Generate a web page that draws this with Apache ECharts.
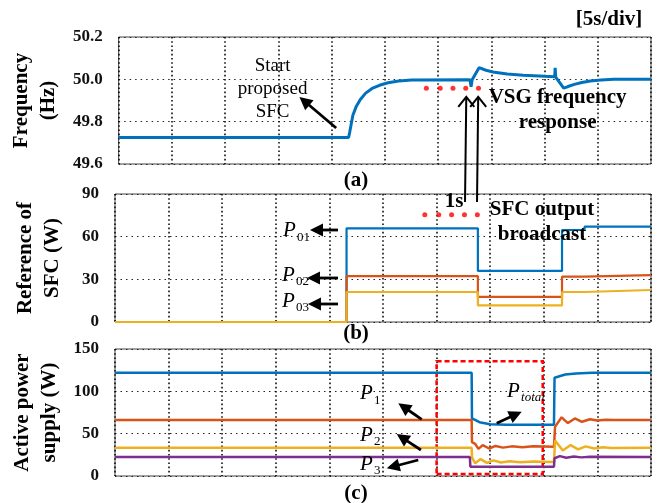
<!DOCTYPE html>
<html>
<head>
<meta charset="utf-8">
<title>SFC experiment</title>
<script src="https://cdn.jsdelivr.net/npm/echarts@6.0.0/dist/echarts.min.js"></script>
<style>
  html, body { margin: 0; padding: 0; background: #fff; }
  #main { width: 664px; height: 503px; }
</style>
</head>
<body>
<div id="main"></div>
<script type="text/javascript">
// time axis: 10 div x 5 s
var timeMin = 0, timeMax = 50, timeStep = 5;

// (a) frequency [t (s), f (Hz)]
var freq = [
  [0, 49.725], [21.6, 49.725], [21.7, 49.75], [21.85, 49.79], [22.0, 49.83], [22.3, 49.87], [22.7, 49.905],
  [23.2, 49.935], [23.8, 49.957], [24.5, 49.972], [25.3, 49.984], [26.3, 49.992], [27.5, 49.997],
  [33.0, 49.998], [33.1, 49.965], [33.2, 49.998], [33.85, 50.055], [34.5, 50.043], [35.3, 50.033],
  [36.5, 50.025], [38.0, 50.019], [40.0, 50.014], [40.95, 50.012], [41.0, 50.054], [41.05, 50.01],
  [41.8, 49.958], [42.2, 49.966], [42.8, 49.976], [43.5, 49.985], [44.3, 49.992], [45.3, 49.997], [46.5, 50.0], [50, 50.0]
];

// (b) SFC references [t, W]
var refP01 = [[0, 0], [21.6, 0], [21.6, 65.9], [33.85, 65.9], [33.85, 35.9], [41.7, 35.9], [41.7, 64.7], [43.8, 64.7], [43.8, 67.0], [50, 67.0]];
var refP02 = [[0, 0], [21.6, 0], [21.6, 32.3], [33.85, 32.3], [33.85, 17.6], [41.7, 17.6], [41.7, 31.9], [43.8, 31.9], [43.8, 33.0], [50, 33.0]];
var refP03 = [[0, 0], [21.6, 0], [21.6, 21.1], [33.85, 21.1], [33.85, 11.7], [41.7, 11.7], [41.7, 21.1], [43.8, 21.1], [43.8, 22.5], [50, 22.5]];

// (c) active power supply [t, W]
var pTotal = [[0, 122], [33.27, 122], [33.3, 68], [34.0, 63.5], [35.0, 61.2], [36.5, 60.5], [40.95, 60.5], [41.0, 116], [42.0, 119.8], [43.0, 121.2], [44.5, 122], [50, 122]];
var p1 = [[0, 66], [33.27, 66], [33.3, 40], [33.6, 38], [33.9, 32], [34.3, 36.5], [34.9, 32.5], [35.5, 35.5], [36.2, 33.5], [37, 35], [38, 34], [39, 35], [40.95, 34.5],
          [41.05, 58], [41.66, 69.3], [42.25, 62.5], [42.9, 68], [43.56, 64], [44.3, 67], [45, 65.5], [45.8, 66.5], [46.5, 66], [50, 66]];
var p2 = [[0, 33.4], [33.27, 33.4], [33.3, 22], [33.6, 15], [34.1, 20], [34.7, 15.5], [35.3, 18.5], [36, 16], [36.8, 17.5], [37.8, 16.3], [39, 17], [40.95, 16.5],
          [41.05, 42], [41.77, 30], [42.5, 36.5], [43.2, 31.5], [43.9, 35], [44.7, 32.5], [45.5, 34], [46.3, 33.2], [50, 33.4]];
var p3 = [[0, 22.4], [33.1, 22.4], [33.15, 11], [40.95, 11], [41.0, 21], [41.5, 23.5], [42.1, 21.5], [42.8, 23], [43.5, 22], [44.3, 22.8], [50, 22.4]];

// broadcast instants (red dots)
var dotTimes = [28.9, 30.2, 31.4, 32.6, 33.8];
var dotFreq = 49.958, dotRef = 75.4;

// dashed box in (c): [t0, W0, t1, W1]
var boxArea = [30.0, 2.4, 39.9, 135.5];

var cBlue = '#0072BD', cOrange = '#D95319', cYellow = '#EDB120', cPurple = '#7E2F8E';
var serif = '"Liberation Serif", "Times New Roman", serif';

function xAx(i) {
  return {
    type: 'value', gridIndex: i, min: timeMin, max: timeMax, interval: timeStep,
    axisLine: { show: false }, axisTick: { show: false }, axisLabel: { show: false },
    splitLine: { show: true, lineStyle: { color: '#000', width: 1.5, type: [1.6, 2.6] } }
  };
}
function yAx(i, min, max, step, name, dec) {
  return {
    type: 'value', gridIndex: i, min: min, max: max, interval: step,
    name: name, nameLocation: 'middle', nameGap: 49, nameRotate: 90,
    nameTextStyle: { fontFamily: serif, fontWeight: 'bold', fontSize: 21, color: '#000', lineHeight: 27 },
    axisLine: { show: false }, axisTick: { show: false },
    axisLabel: {
      margin: 16, fontFamily: serif, fontWeight: 'bold', fontSize: 17, color: '#111',
      formatter: function (v) { return v.toFixed(dec); }
    },
    splitLine: { show: true, lineStyle: { color: '#222', width: 1, type: [1.5, 4] } }
  };
}
function lineS(name, data, color, x, y, w) {
  return { name: name, type: 'line', xAxisIndex: x, yAxisIndex: y, data: data, showSymbol: false,
           lineStyle: { color: color, width: w }, itemStyle: { color: color }, animation: false, silent: true };
}
function dots(vals, x, y) {
  return { type: 'scatter', xAxisIndex: x, yAxisIndex: y, symbolSize: 5, itemStyle: { color: '#ff0000' },
           data: vals.map(function (t) { return [t, y === 0 ? dotFreq : dotRef]; }), animation: false, silent: true };
}

var gridBox = { show: true, left: 115, right: 13, borderColor: '#444', borderWidth: 1 };

var option = {
  backgroundColor: '#fff',
  animation: false,
  grid: [
    Object.assign({ top: 37, height: 127 }, gridBox),
    Object.assign({ top: 194, height: 128 }, gridBox),
    Object.assign({ top: 349, height: 127 }, gridBox)
  ],
  xAxis: [xAx(0), xAx(1), xAx(2)],
  yAxis: [
    yAx(0, 49.6, 50.2, 0.2, 'Frequency\n(Hz)', 1),
    yAx(1, 0, 90, 30, 'Reference of\nSFC (W)', 0),
    yAx(2, 0, 150, 50, 'Active power\nsupply (W)', 0)
  ],
  series: [
    lineS('f', freq, cBlue, 0, 0, 3),
    dots(dotTimes, 0, 0),
    lineS('P01', refP01, cBlue, 1, 1, 2.2),
    lineS('P02', refP02, cOrange, 1, 1, 2.2),
    lineS('P03', refP03, cYellow, 1, 1, 2.2),
    dots(dotTimes, 1, 1),
    Object.assign(lineS('Ptotal', pTotal, cBlue, 2, 2, 2.5), {
      markArea: {
        silent: true,
        itemStyle: { color: 'rgba(0,0,0,0)', borderColor: '#ff0000', borderWidth: 2.5, borderType: [5, 3] },
        data: [[{ coord: [boxArea[0], boxArea[1]] }, { coord: [boxArea[2], boxArea[3]] }]]
      }
    }),
    lineS('P1', p1, cOrange, 2, 2, 2.5),
    lineS('P2', p2, cYellow, 2, 2, 2.5),
    lineS('P3', p3, cPurple, 2, 2, 2.5)
  ]
};

var chart = echarts.init(document.getElementById('main'));
chart.setOption(option);

// ---- annotations, placed through the grids' own scales ----
function px(g, t, v) { return chart.convertToPixel({ gridIndex: g }, [t, v]); }

function txt(p, s, size, weight, style, align) {
  return { type: 'text', x: p[0], y: p[1], z: 100,
    style: { text: s, fontFamily: serif, fontSize: size, fontWeight: weight || 'normal', fontStyle: style || 'normal',
             fill: '#000', align: align || 'center', verticalAlign: 'middle',
             textAlign: align || 'center', textVerticalAlign: 'middle', lineHeight: size + 4 } };
}
function pLabel(p, sub) {
  var isWord = sub.length > 2;
  return [
    txt([p[0], p[1]], 'P', 21, 'normal', 'italic', 'left'),
    txt([p[0] + 14, p[1] + 7], sub, 13, 'normal', isWord ? 'italic' : 'normal', 'left')
  ];
}
function arrow(p0, p1) {
  var dx = p1[0] - p0[0], dy = p1[1] - p0[1], len = Math.sqrt(dx * dx + dy * dy);
  var ux = dx / len, uy = dy / len, hl = 13, hw = 6.5;
  var bx = p1[0] - ux * hl, by = p1[1] - uy * hl;
  return [
    { type: 'line', z: 100, shape: { x1: p0[0], y1: p0[1], x2: bx + ux * 2, y2: by + uy * 2 }, style: { stroke: '#000', lineWidth: 2.8 } },
    { type: 'polygon', z: 100, shape: { points: [[p1[0], p1[1]], [bx - uy * hw, by + ux * hw], [bx + uy * hw, by - ux * hw]] }, style: { fill: '#000' } }
  ];
}
function upArrow(top, bottom) {
  return [
    { type: 'line', z: 100, shape: { x1: top[0], y1: top[1], x2: bottom[0], y2: bottom[1] }, style: { stroke: '#000', lineWidth: 2 } },
    { type: 'polyline', z: 100, shape: { points: [[top[0] - 8, top[1] + 10], [top[0], top[1]], [top[0] + 8, top[1] + 10]] }, style: { stroke: '#000', lineWidth: 2, fill: null } }
  ];
}

var g = [];
// panel labels and time base
g.push(txt([609, 20], '[5s/div]', 21, 'bold'));
g.push(txt([356, 181], '(a)', 21, 'bold'));
g.push(txt([356, 334], '(b)', 21, 'bold'));
g.push(txt([356, 494], '(c)', 21, 'bold'));

// (a)
g.push(txt(px(0, 14.46, 49.954), 'Start\nproposed\nSFC', 19, 'normal'));
g = g.concat(arrow(px(0, 20.43, 49.770), px(0, 16.98, 49.917)));
g.push(txt(px(0, 41.23, 49.857), 'VSG frequency\nresponse', 21, 'bold'));
g = g.concat(upArrow(px(0, 32.65, 49.917), px(1, 32.65, 84.4)));
g = g.concat(upArrow(px(0, 33.77, 49.917), px(1, 33.77, 84.4)));

// (b)
g.push(txt(px(1, 31.62, 84.4), '1s', 21, 'bold'));
g.push(txt(px(1, 39.83, 70.3), 'SFC output\nbroadcast', 21, 'bold'));
g = g.concat(pLabel(px(1, 15.67, 64.34), '01'));
g = g.concat(pLabel(px(1, 15.58, 33.05), '02'));
g = g.concat(pLabel(px(1, 15.58, 14.77), '03'));
g = g.concat(arrow(px(1, 20.80, 64.69), px(1, 18.19, 64.69)));
g = g.concat(arrow(px(1, 20.80, 30.94), px(1, 17.91, 30.94)));
g = g.concat(arrow(px(1, 20.80, 12.66), px(1, 18.0, 12.66)));

// (c)
g = g.concat(pLabel(px(2, 22.85, 97.44), '1'));
g = g.concat(pLabel(px(2, 22.85, 48.43), '2'));
g = g.concat(pLabel(px(2, 22.85, 14.17), '3'));
g = g.concat(pLabel(px(2, 36.57, 100.39), 'total'));
g = g.concat(arrow(px(2, 28.61, 66.97), px(2, 26.43, 85.87)));
g = g.concat(arrow(px(2, 28.54, 30.71), px(2, 26.28, 49.61)));
g = g.concat(arrow(px(2, 28.29, 18.9), px(2, 25.35, 9.1)));
g = g.concat(arrow(px(2, 35.61, 62.24), px(2, 37.94, 75.94)));

chart.setOption({ graphic: g });
</script>
</body>
</html>
